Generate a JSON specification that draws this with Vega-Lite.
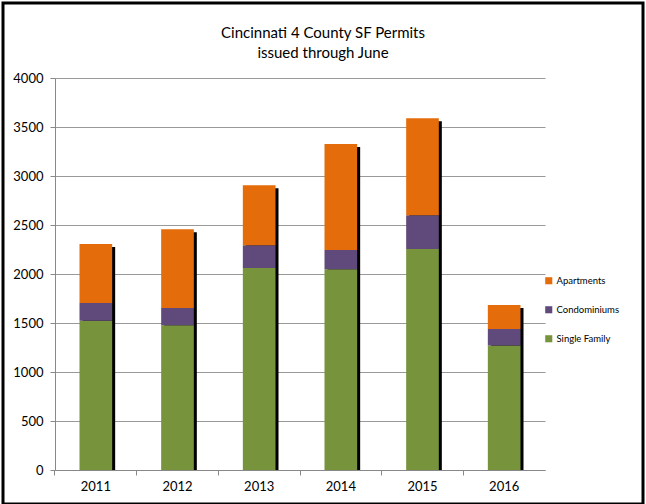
{
  "$schema": "https://vega.github.io/schema/vega-lite/v6.json",
  "autosize": {"type": "none"},
  "padding": {"left": 3, "top": 3, "right": 3, "bottom": 0},
  "width": 640,
  "height": 501,
  "background": "white",
  "config": {
    "view": {"stroke": "#000", "strokeWidth": 3},
    "font": "Lato"
  },
  "title": {
    "text": ["Cincinnati 4 County SF Permits", "issued through June"],
    "frame": "group",
    "anchor": "middle",
    "offset": -58,
    "fontSize": 15,
    "fontWeight": "normal",
    "lineHeight": 20,
    "color": "#000",
    "font": "Lato"
  },
  "data": {
    "values": [
      {"year": "2011", "type": "Single Family", "value": 1522},
      {"year": "2011", "type": "Condominiums", "value": 182},
      {"year": "2011", "type": "Apartments", "value": 602},
      {"year": "2012", "type": "Single Family", "value": 1478},
      {"year": "2012", "type": "Condominiums", "value": 176},
      {"year": "2012", "type": "Apartments", "value": 802},
      {"year": "2013", "type": "Single Family", "value": 2061},
      {"year": "2013", "type": "Condominiums", "value": 233},
      {"year": "2013", "type": "Apartments", "value": 612},
      {"year": "2014", "type": "Single Family", "value": 2049},
      {"year": "2014", "type": "Condominiums", "value": 196},
      {"year": "2014", "type": "Apartments", "value": 1082},
      {"year": "2015", "type": "Single Family", "value": 2255},
      {"year": "2015", "type": "Condominiums", "value": 345},
      {"year": "2015", "type": "Apartments", "value": 990},
      {"year": "2016", "type": "Single Family", "value": 1271},
      {"year": "2016", "type": "Condominiums", "value": 168},
      {"year": "2016", "type": "Apartments", "value": 245}
    ]
  },
  "encoding": {
    "x": {
      "field": "year",
      "type": "ordinal",
      "scale": {"range": [52, 542], "paddingInner": 0.6, "paddingOuter": 0.3},
      "axis": {
        "title": null,
        "offset": -34,
        "labelAngle": 0,
        "domainColor": "#888",
        "tickColor": "#888",
        "tickSize": 5,
        "bandPosition": -0.75,
        "labelPadding": 5,
        "labelFontSize": 13,
        "labelColor": "#000",
        "labelFont": "Lato",
        "grid": false
      }
    }
  },
  "layer": [
    {
      "mark": {"type": "bar", "color": "#000", "xOffset": 3, "yOffset": 3},
      "encoding": {
        "y": {
          "aggregate": "sum",
          "field": "value",
          "type": "quantitative",
          "scale": {"domain": [0, 4000], "range": [467, 75], "nice": false}
        }
      }
    },
    {
      "mark": {"type": "bar"},
      "encoding": {
        "y": {
          "field": "value",
          "type": "quantitative",
          "stack": "zero",
          "axis": {
            "title": null,
            "offset": -52,
            "format": "d",
            "values": [0, 500, 1000, 1500, 2000, 2500, 3000, 3500, 4000],
            "domainColor": "#888",
            "tickColor": "#888",
            "tickSize": 5,
            "labelPadding": 7,
            "labelFontSize": 13,
            "labelColor": "#000",
            "labelFont": "Lato",
            "grid": true,
            "gridColor": "#999",
            "gridWidth": 1
          }
        },
        "color": {
          "field": "type",
          "type": "nominal",
          "scale": {
            "domain": ["Apartments", "Condominiums", "Single Family"],
            "range": ["#E46C0A", "#604A7B", "#77933C"]
          },
          "legend": {
            "title": null,
            "orient": "none",
            "legendX": 541,
            "legendY": 273,
            "symbolType": "square",
            "symbolSize": 50,
            "symbolStrokeWidth": 0,
            "labelFontSize": 9.5,
            "labelFont": "Lato",
            "labelColor": "#000",
            "rowPadding": 18,
            "labelOffset": 3
          }
        },
        "order": {"field": "type", "sort": "descending"}
      }
    }
  ]
}
